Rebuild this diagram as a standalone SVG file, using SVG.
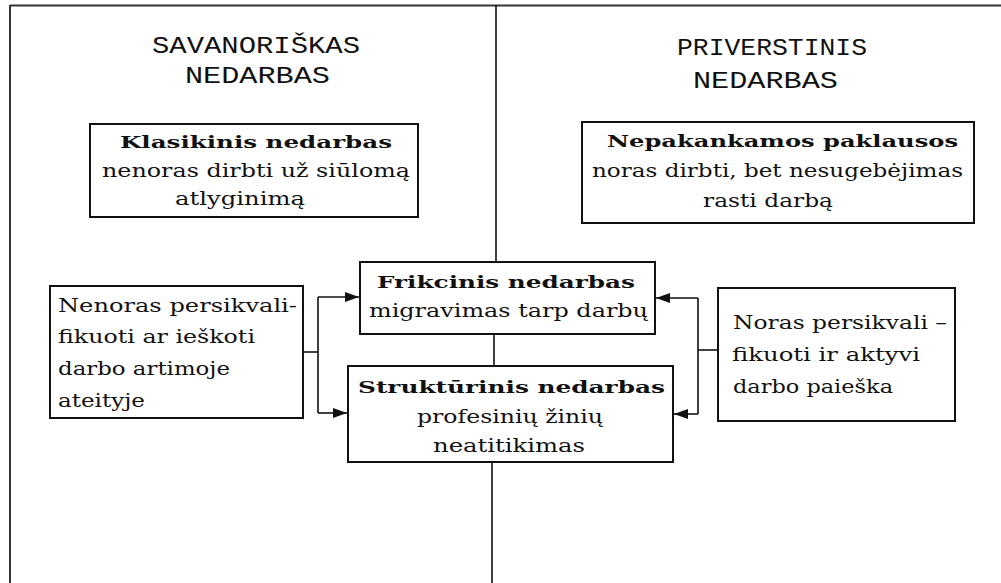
<svg xmlns="http://www.w3.org/2000/svg" width="1001" height="583" viewBox="0 0 1001 583">
<style>
.frame{stroke:#333;stroke-width:2;fill:none}
.box{fill:#fff;stroke:#111;stroke-width:2}
.ln{stroke:#111;stroke-width:1.6;fill:none}
text{fill:#111}
</style>
<defs>
<marker id="ah" viewBox="0 0 14 10" refX="14" refY="5" markerWidth="14" markerHeight="10" markerUnits="userSpaceOnUse" orient="auto">
<path d="M0,0 L14,5 L0,10 Z" fill="#111"/>
</marker>
</defs>
<rect width="1001" height="583" fill="#fff"/>
<g id="frame">
<line class="frame" x1="10" y1="5.5" x2="1001" y2="5.5"/>
<line class="frame" x1="10" y1="5" x2="10" y2="583"/>
</g>
<g id="titles" font-family="Liberation Mono, monospace" font-size="23">
<text x="152" y="53" textLength="208" lengthAdjust="spacingAndGlyphs">SAVANORIŠKAS</text>
<text x="185" y="83" textLength="145" lengthAdjust="spacingAndGlyphs">NEDARBAS</text>
<text x="677" y="55" textLength="190" lengthAdjust="spacingAndGlyphs">PRIVERSTINIS</text>
<text x="693" y="88" textLength="145" lengthAdjust="spacingAndGlyphs">NEDARBAS</text>
</g>
<g id="connectors">
<line class="ln" x1="496" y1="5" x2="496" y2="262"/>
<line class="ln" x1="494" y1="334" x2="494" y2="366"/>
<line class="ln" x1="492" y1="462" x2="492" y2="583"/>
<polyline class="ln" points="303,352 318,352"/>
<polyline class="ln" points="318,297 318,413"/>
<line class="ln" x1="318" y1="297" x2="359" y2="297" marker-end="url(#ah)"/>
<line class="ln" x1="318" y1="413" x2="347" y2="413" marker-end="url(#ah)"/>
<polyline class="ln" points="718,350 698,350"/>
<polyline class="ln" points="698,298 698,414"/>
<line class="ln" x1="698" y1="298" x2="656" y2="298" marker-end="url(#ah)"/>
<line class="ln" x1="698" y1="414" x2="674" y2="414" marker-end="url(#ah)"/>
</g>
<g id="nodes" font-family="DejaVu Serif, Liberation Serif, serif" font-size="19">
<g id="klasikinis">
<rect class="box" x="90" y="124" width="328" height="93"/>
<text x="120" y="148" font-size="17" font-weight="bold" textLength="272" lengthAdjust="spacingAndGlyphs">Klasikinis nedarbas</text>
<text x="102" y="177" textLength="308" lengthAdjust="spacingAndGlyphs">nenoras dirbti už siūlomą</text>
<text x="175" y="205" textLength="130" lengthAdjust="spacingAndGlyphs">atlyginimą</text>
</g>
<g id="nepakankamos">
<rect class="box" x="582" y="122" width="392" height="101"/>
<text x="607" y="147" font-size="17" font-weight="bold" textLength="351" lengthAdjust="spacingAndGlyphs">Nepakankamos paklausos</text>
<text x="592" y="177" textLength="371" lengthAdjust="spacingAndGlyphs">noras dirbti, bet nesugebėjimas</text>
<text x="703" y="207" textLength="130" lengthAdjust="spacingAndGlyphs">rasti darbą</text>
</g>
<g id="nenoras">
<rect class="box" x="50" y="286" width="253" height="132"/>
<text x="58" y="312" textLength="239" lengthAdjust="spacingAndGlyphs">Nenoras persikvali-</text>
<text x="58" y="343" textLength="197" lengthAdjust="spacingAndGlyphs">fikuoti ar ieškoti</text>
<text x="58" y="375" textLength="172" lengthAdjust="spacingAndGlyphs">darbo artimoje</text>
<text x="58" y="407" textLength="87" lengthAdjust="spacingAndGlyphs">ateityje</text>
</g>
<g id="frikcinis">
<rect class="box" x="360" y="262" width="295" height="72"/>
<text x="377" y="288" font-size="17" font-weight="bold" textLength="258" lengthAdjust="spacingAndGlyphs">Frikcinis nedarbas</text>
<text x="369" y="317" textLength="279" lengthAdjust="spacingAndGlyphs">migravimas tarp darbų</text>
</g>
<g id="strukturinis">
<rect class="box" x="348" y="366" width="325" height="96"/>
<text x="358" y="393" font-size="17" font-weight="bold" textLength="307" lengthAdjust="spacingAndGlyphs">Struktūrinis nedarbas</text>
<text x="417" y="423" textLength="186" lengthAdjust="spacingAndGlyphs">profesinių žinių</text>
<text x="433" y="452" textLength="152" lengthAdjust="spacingAndGlyphs">neatitikimas</text>
</g>
<g id="noras">
<rect class="box" x="718" y="288" width="237" height="133"/>
<text x="733" y="329" textLength="214" lengthAdjust="spacingAndGlyphs">Noras persikvali –</text>
<text x="732" y="361" textLength="188" lengthAdjust="spacingAndGlyphs">fikuoti ir aktyvi</text>
<text x="733" y="393" textLength="160" lengthAdjust="spacingAndGlyphs">darbo paieška</text>
</g>
</g>
</svg>
